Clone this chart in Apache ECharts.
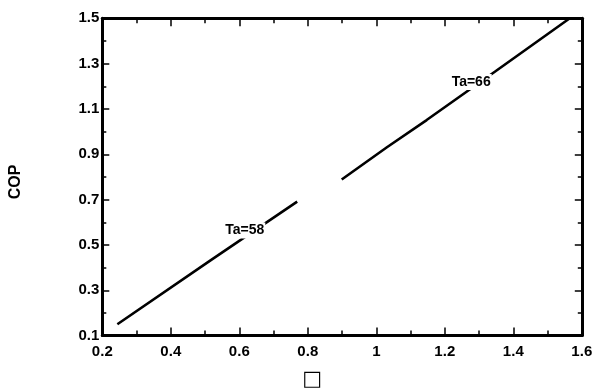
<!DOCTYPE html>
<html>
<head>
<meta charset="utf-8">
<script src="https://cdn.jsdelivr.net/npm/echarts@6/dist/echarts.min.js"></script>
<style>
  html, body { margin: 0; padding: 0; background: #fff; }
  #chart { width: 595px; height: 388px; }
</style>
</head>
<body>
<div id="chart"></div>
<script>
// Contour Ta=58
const ta58X = [0.244, 0.517, 0.769];
const ta58Y = [0.150, 0.433, 0.691];
// Contour Ta=66
const ta66X = [0.899, 1.03, 1.147, 1.346, 1.565];
const ta66Y = [0.789, 0.93, 1.051, 1.264, 1.500];

// Contour labels and where they sit
const labelNames = ['Ta=58', 'Ta=66'];
const labelX = [0.616, 1.277];
const labelY = [0.568, 1.223];

// Axis ticks
const xMajor = [0.2, 0.4, 0.6, 0.8, 1.0, 1.2, 1.4, 1.6];
const xMajorLabels = ['0.2', '0.4', '0.6', '0.8', '1', '1.2', '1.4', '1.6'];
const xMinor = [0.3, 0.5, 0.7, 0.9, 1.1, 1.3, 1.5];
const yMajor = [0.1, 0.3, 0.5, 0.7, 0.9, 1.1, 1.3, 1.5];
const yMajorLabels = ['0.1', '0.3', '0.5', '0.7', '0.9', '1.1', '1.3', '1.5'];
const yMinor = [0.2, 0.4, 0.6, 0.8, 1.0, 1.2, 1.4];

const FONT = '"Liberation Sans", Arial, sans-serif';
const X_MIN = 0.2, X_MAX = 1.6, Y_MIN = 0.1, Y_MAX = 1.5;

const zip = (xs, ys) => xs.map((x, i) => [x, ys[i]]);

function xAxisDef(pos, ticks, len, withLine, labels) {
  return {
    type: 'value', position: pos, min: X_MIN, max: X_MAX,
    splitLine: { show: false },
    axisLine: { show: withLine, onZero: false, lineStyle: { color: '#000', width: 3 } },
    axisTick: { show: true, inside: true, length: len, customValues: ticks,
                lineStyle: { color: '#000', width: 1.5 } },
    axisLabel: labels ? {
      show: true, customValues: ticks, margin: 9,
      formatter: v => labels[ticks.findIndex(t => Math.abs(t - v) < 1e-9)] ?? '',
      color: '#000', fontFamily: FONT, fontWeight: 'bold', fontSize: 15
    } : { show: false }
  };
}

function yAxisDef(pos, ticks, len, withLine, labels) {
  return {
    type: 'value', position: pos, min: Y_MIN, max: Y_MAX,
    splitLine: { show: false },
    axisLine: { show: withLine, onZero: false, lineStyle: { color: '#000', width: 3 } },
    axisTick: { show: true, inside: true, length: len, customValues: ticks,
                lineStyle: { color: '#000', width: 1.5 } },
    axisLabel: labels ? {
      show: true, customValues: ticks, margin: 3,
      formatter: v => labels[ticks.findIndex(t => Math.abs(t - v) < 1e-9)] ?? '',
      color: '#000', fontFamily: FONT, fontWeight: 'bold', fontSize: 15
    } : { show: false }
  };
}

const xMain = xAxisDef('bottom', xMajor, 8, true, xMajorLabels);
xMain.name = '\u25A1';
xMain.nameLocation = 'middle';
xMain.nameGap = 33;
xMain.nameTextStyle = { color: '#000', fontFamily: '"DejaVu Sans", sans-serif',
  fontSize: 21, padding: [0, 60, 0, 0] };

const yMain = yAxisDef('left', yMajor, 7, true, yMajorLabels);
yMain.name = 'COP';
yMain.nameLocation = 'middle';
yMain.nameRotate = 90;
yMain.nameGap = 79;
yMain.nameTextStyle = { color: '#000', fontFamily: FONT, fontWeight: 'bold', fontSize: 16,
  padding: [0, 10, 0, 0] };

const chart = echarts.init(document.getElementById('chart'), null, { renderer: 'canvas' });
chart.setOption({
  animation: false,
  backgroundColor: '#fff',
  grid: { left: 102.3, right: 13.2, top: 18.3, bottom: 52.4,
          containLabel: false, outerBoundsMode: 'none' },
  xAxis: [
    xMain,
    xAxisDef('bottom', xMinor, 5, false, null),
    xAxisDef('top', xMajor, 8, true, null),
    xAxisDef('top', xMinor, 5, false, null)
  ],
  yAxis: [
    yMain,
    yAxisDef('left', yMinor, 4, false, null),
    yAxisDef('right', yMajor, 7, true, null),
    yAxisDef('right', yMinor, 4, false, null)
  ],
  series: [
    {
      name: 'Ta=58', type: 'line', xAxisIndex: 0, yAxisIndex: 0,
      data: zip(ta58X, ta58Y), showSymbol: false, symbol: 'none',
      lineStyle: { color: '#000', width: 2.6 }, z: 2
    },
    {
      name: 'Ta=66', type: 'line', xAxisIndex: 0, yAxisIndex: 0,
      data: zip(ta66X, ta66Y), showSymbol: false, symbol: 'none',
      lineStyle: { color: '#000', width: 2.6 }, z: 2
    },
    {
      name: 'labels', type: 'scatter', xAxisIndex: 0, yAxisIndex: 0,
      symbolSize: 0, z: 5, itemStyle: { opacity: 1 },
      data: labelNames.map((n, i) => ({ name: n, value: [labelX[i], labelY[i]] })),
      label: {
        show: true, position: 'inside', formatter: p => p.name, opacity: 1,
        color: '#000', fontFamily: FONT, fontWeight: 'bold', fontSize: 14,
        backgroundColor: '#fff', padding: [1, 1, 1, 1], offset: [0, 1]
      }
    }
  ]
});
</script>
</body>
</html>
